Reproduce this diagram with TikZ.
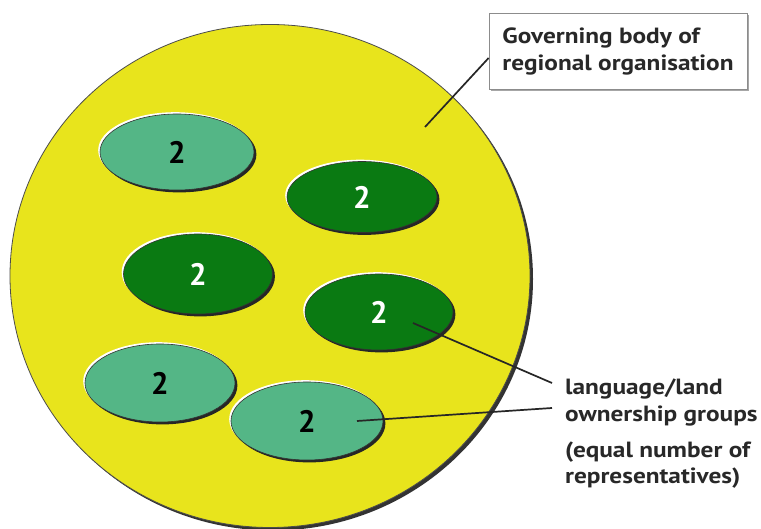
\documentclass[tikz,border=0pt]{standalone}
\usepackage{fontspec}
\setmainfont{PT Sans}
\newfontfamily\lblfont[FakeStretch=1.15]{PT Sans}
\usetikzlibrary{shapes.geometric,shadows,calc}
\definecolor{bodyyellow}{RGB}{232,228,28}
\definecolor{lightgrp}{RGB}{84,182,134}
\definecolor{darkgrp}{RGB}{10,122,18}
\definecolor{txt}{RGB}{40,40,40}
\begin{document}
\begin{tikzpicture}[x=1pt,y=-1pt,
  grp/.style={ellipse, inner sep=0pt, draw=black!80, line width=0.6pt,
    font=\fontsize{31}{31}\selectfont\bfseries,
    general shadow={shadow xshift=-1.8pt, shadow yshift=1.8pt, fill=white},
    general shadow={shadow xshift=2.4pt, shadow yshift=-2.4pt, fill=black!85}},
  lightg/.style={grp, fill=lightgrp, text=black},
  darkg/.style={grp, fill=darkgrp, text=white},
  lbl/.style={font=\lblfont\fontsize{22}{27}\selectfont\bfseries, text=txt, inner sep=0pt, anchor=base west},
  conn/.style={draw=black!85, line width=1.7pt}
]
\useasboundingbox (0,0) rectangle (761,529);
\fill[white] (0,0) rectangle (761,529);

% main body
\node[ellipse, minimum width=520pt, minimum height=503pt, inner sep=0pt,
  fill=bodyyellow, draw=black!70, line width=0.8pt,
  general shadow={shadow xshift=3pt, shadow yshift=-3pt, fill=black!80}] (body) at (270,276) {};

% groups
\node[lightg, minimum width=154pt, minimum height=76pt] (e1) at (177,152) {2};
\node[darkg,  minimum width=150pt, minimum height=71pt] (e2) at (362,197) {2};
\node[darkg,  minimum width=149pt, minimum height=80pt] (e3) at (198,274) {2};
\node[darkg,  minimum width=148pt, minimum height=76pt] (e4) at (379,312) {2};
\node[lightg, minimum width=150pt, minimum height=78pt] (e5) at (160,383) {2};
\node[lightg, minimum width=152pt, minimum height=78pt] (e6) at (307,421) {2};

% title box
\node[rectangle, draw=black!45, line width=0.8pt, fill=white,
  minimum width=258pt, minimum height=76pt, align=left,
  font=\lblfont\fontsize{22}{27}\selectfont\bfseries, text=txt,
  general shadow={shadow xshift=2pt, shadow yshift=-2pt, fill=black!35}] (box) at (618,51)
  {Governing body of\\regional organisation};

% labels
\node[lbl] (l1) at (565,395) {language/land};
\node[lbl] (l2) at (565,422) {ownership groups};
\node[lbl] (l3) at (565,457) {(equal number of};
\node[lbl] (l4) at (565,483) {representatives)};

% connectors
\coordinate (b1) at ($(box.west)+(0,7)$);
\coordinate (b2) at (425,127);
\draw[conn] (b1) -- (b2);
\coordinate (s1) at ($(e4)+(34,11)$);
\coordinate (t1) at ($(l1.base west)+(-13,-12)$);
\draw[conn] (s1) -- (t1);
\coordinate (s2) at ($(e6)+(50,0)$);
\coordinate (t2) at ($(l2.base west)+(-13,-14)$);
\draw[conn] (s2) -- (t2);
\end{tikzpicture}
\end{document}
